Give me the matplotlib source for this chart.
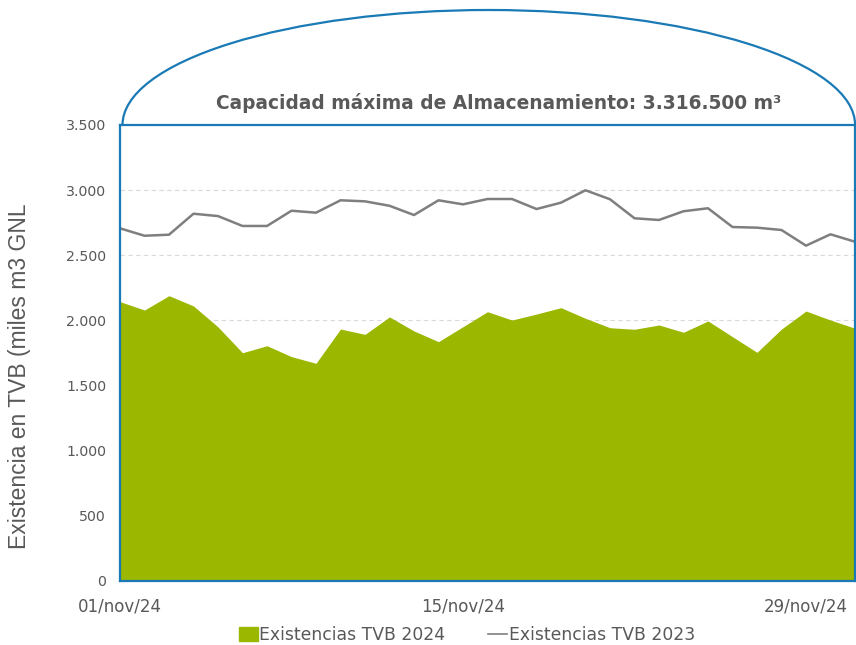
import matplotlib
matplotlib.use('Agg')
import matplotlib.pyplot as plt
from matplotlib.patches import Arc, Patch
from matplotlib.lines import Line2D
import numpy as np
import pandas as pd

plt.rcParams['font.family'] = 'DejaVu Sans'

# daily stock in TVB, thousand m3 GNL
dates = pd.date_range('2024-11-01', periods=31, freq='D')
tvb_2024 = [2144, 2080, 2190, 2111, 1950, 1752, 1806, 1722, 1671, 1934,
            1893, 2027, 1919, 1837, 1952, 2067, 2003, 2049, 2098, 2016,
            1944, 1932, 1965, 1909, 1996, 1875, 1755, 1934, 2072, 2003, 1940]
tvb_2023 = [2707, 2650, 2658, 2819, 2801, 2725, 2725, 2842, 2827, 2922,
            2914, 2880, 2809, 2922, 2891, 2932, 2932, 2855, 2904, 2999,
            2930, 2784, 2771, 2838, 2861, 2717, 2712, 2694, 2574, 2661, 2604]
yticks = [0, 500, 1000, 1500, 2000, 2500, 3000, 3500]
ytick_labels = ['0', '500', '1.000', '1.500', '2.000', '2.500', '3.000', '3.500']
meses = {11: 'nov', 12: 'dic'}
title = 'Capacidad máxima de Almacenamiento: 3.316.500 m³'

green = '#9BB700'
gray = '#7F7F7F'
blue = '#1A7AB5'
txt = '#595959'

W, H = 856, 645
fig = plt.figure(figsize=(W / 100, H / 100), dpi=100)

# tank dome drawn in pixel coordinates
bg = fig.add_axes([0, 0, 1, 1])
bg.set_xlim(0, W)
bg.set_ylim(0, H)
bg.axis('off')
bg.add_patch(Arc((488.8, H - 125), 732.6, 230, theta1=0, theta2=180,
                 color=blue, lw=1.6))

ax = fig.add_axes([120 / W, 64 / H, 735 / W, 456 / H])
ax.fill_between(dates, 0, tvb_2024, color=green, lw=0, zorder=2)
ax.plot(dates, tvb_2023, color=gray, lw=1.8, zorder=3)

ax.set_xlim(dates[0], dates[-1])
ax.set_ylim(0, 3500)
ax.set_yticks(yticks)
ax.set_yticklabels(ytick_labels)
xt = dates[::14][:3]
ax.set_xticks(xt)
ax.set_xticklabels([f'{d.day:02d}/{meses[d.month]}/{d:%y}' for d in xt])
ax.tick_params(axis='y', length=0, pad=10, labelsize=10.2, labelcolor=txt)
ax.tick_params(axis='x', length=0, pad=12, labelsize=12, labelcolor=txt)
ax.grid(axis='y', color='#D9D9D9', ls=(0, (4, 3)), lw=0.8, zorder=1)
ax.set_axisbelow(True)
for s in ax.spines.values():
    s.set_color(blue)
    s.set_linewidth(1.6)
    s.set_zorder(4)

fig.text(498.5 / W, 1 - 103 / H, title, ha='center', va='center',
         fontsize=13.4, fontweight='bold', color=txt)
fig.text(20 / W, 1 - 376 / H, 'Existencia en TVB (miles m3 GNL', rotation=90,
         ha='center', va='center', fontsize=16.5, color=txt,
         family='Liberation Sans')

handles = [Patch(color=green), Line2D([0], [0], color=gray, lw=1.2)]
fig.legend(handles, ['Existencias TVB 2024', 'Existencias TVB 2023'],
           loc='center', bbox_to_anchor=(467 / W, 1 - 635 / H), ncol=2,
           frameon=False, fontsize=12.4, labelcolor=txt, handlelength=1.1,
           handleheight=0.8, handletextpad=0.1, columnspacing=2.5)

fig.savefig('out.png', dpi=100)
